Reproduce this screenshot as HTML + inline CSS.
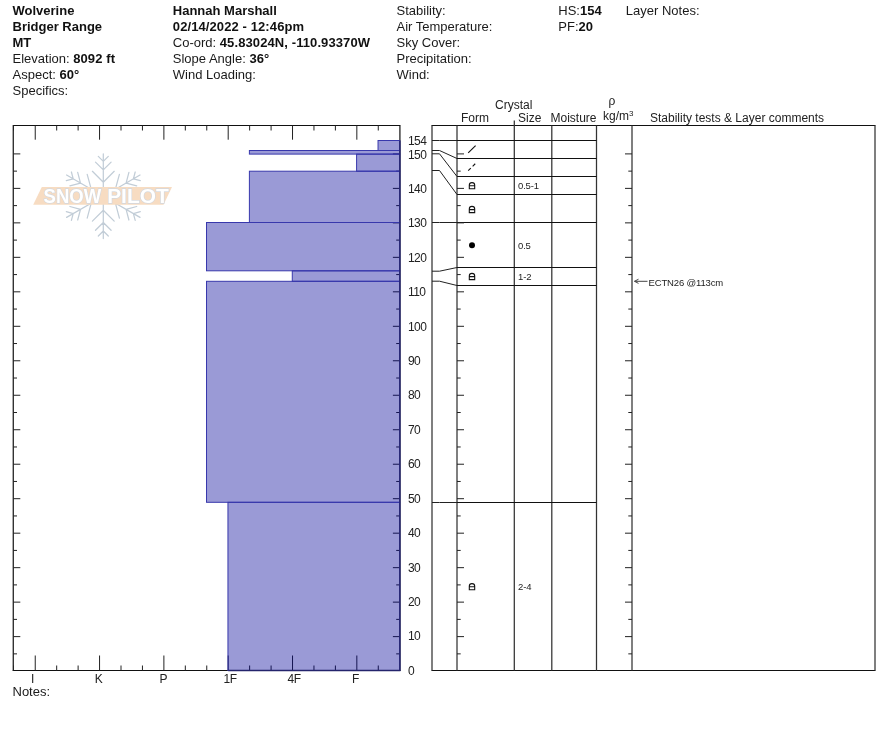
<!DOCTYPE html>
<html lang="en"><head><meta charset="utf-8"><title>Snow Pilot - Wolverine</title>
<style>
html,body{margin:0;padding:0;background:#fff;}
body{width:888px;height:750px;overflow:hidden;position:relative;font-family:"Liberation Sans",Arial,sans-serif;color:#1a1a1a;}
.hd{position:absolute;top:3px;margin-left:-0.5px;font-size:13px;line-height:16px;white-space:nowrap;}
.hd b{font-weight:bold;color:#111;}
.hd b.n{letter-spacing:0.1px;}
svg{position:absolute;left:0;top:0;}
svg text{font-family:"Liberation Sans",Arial,sans-serif;}
</style></head><body>

<div class="hd" style="left:13px"><b>Wolverine</b><br><b>Bridger Range</b><br><b>MT</b><br>Elevation: <b class="n">8092 ft</b><br>Aspect: <b>60°</b><br>Specifics:</div>
<div class="hd" style="left:173.3px"><b>Hannah Marshall</b><br><b class="n">02/14/2022 - 12:46pm</b><br>Co-ord: <b class="n">45.83024N, -110.93370W</b><br>Slope Angle: <b>36°</b><br>Wind Loading:</div>
<div class="hd" style="left:397px">Stability:<br>Air Temperature:<br>Sky Cover:<br>Precipitation:<br>Wind:</div>
<div class="hd" style="left:558.8px">HS:<b>154</b><br>PF:<b>20</b></div>
<div class="hd" style="left:626.3px">Layer Notes:</div>
<div class="hd" style="left:13px;top:683.5px">Notes:</div>
<svg width="888" height="750" viewBox="0 0 888 750">
<g id="logo" opacity="1">
<path d="M103.3,196.2L103.3,153.8 M103.3,182.2L114.2,171.3 M103.3,182.2L92.4,171.3 M103.3,169.9L111.1,162.1 M103.3,169.9L95.5,162.1 M103.3,161.4L108.3,156.4 M103.3,161.4L98.3,156.4 M103.3,196.2L66.6,175.0 M91.2,189.2L87.2,174.3 M91.2,189.2L76.3,193.2 M80.5,183.1L77.7,172.4 M80.5,183.1L69.9,185.9 M73.2,178.8L71.4,172.0 M73.2,178.8L66.3,180.7 M103.3,196.2L66.6,217.4 M91.2,203.2L76.3,199.2 M91.2,203.2L87.2,218.1 M80.5,209.3L69.9,206.5 M80.5,209.3L77.7,220.0 M73.2,213.6L66.3,211.7 M73.2,213.6L71.4,220.4 M103.3,196.2L103.3,238.6 M103.3,210.2L92.4,221.1 M103.3,210.2L114.2,221.1 M103.3,222.5L95.5,230.3 M103.3,222.5L111.1,230.3 M103.3,231.0L98.3,236.0 M103.3,231.0L108.3,236.0 M103.3,196.2L140.0,217.4 M115.4,203.2L119.4,218.1 M115.4,203.2L130.3,199.2 M126.1,209.3L128.9,220.0 M126.1,209.3L136.7,206.5 M133.4,213.6L135.2,220.4 M133.4,213.6L140.3,211.7 M103.3,196.2L140.0,175.0 M115.4,189.2L130.3,193.2 M115.4,189.2L119.4,174.3 M126.1,183.1L136.7,185.9 M126.1,183.1L128.9,172.4 M133.4,178.8L140.3,180.7 M133.4,178.8L135.2,172.0" stroke="#c2cdd7" stroke-width="1.25" fill="none" stroke-linecap="round"/>
<polygon points="41.8,187 172,187 163.5,204.7 33.2,204.7" fill="#f7dcc2"/>
<g font-size="20.5" font-weight="bold" fill="#ffffff" stroke="#d3d8df" stroke-width="1.3" paint-order="stroke">
<text x="43.6" y="203.2" textLength="57.6" lengthAdjust="spacingAndGlyphs">SNOW</text>
<text x="107.2" y="203.2" textLength="61.5" lengthAdjust="spacingAndGlyphs">PILOT</text>
</g>
</g>
<g stroke="#222" stroke-width="1" fill="none">
<path d="M13.3,125.5V671.0 M399.9,125.5V671.0" stroke="#333" stroke-width="1.4"/>
<path d="M12.8,125.5H400.4 M12.8,670.5H400.4" stroke="#111"/>
<path d="M13.5,125.5v5 M13.5,670.5v-5 M35.24,125.5v14.2 M35.24,670.5v-15.0 M56.68000000000001,125.5v5 M56.68000000000001,670.5v-5 M78.12,125.5v5 M78.12,670.5v-5 M99.56,125.5v14.2 M99.56,670.5v-15.0 M121.0,125.5v5 M121.0,670.5v-5 M142.44000000000003,125.5v5 M142.44000000000003,670.5v-5 M163.88000000000002,125.5v14.2 M163.88000000000002,670.5v-15.0 M185.32000000000002,125.5v5 M185.32000000000002,670.5v-5 M206.76000000000002,125.5v5 M206.76000000000002,670.5v-5 M228.20000000000002,125.5v14.2 M228.20000000000002,670.5v-15.0 M249.64000000000001,125.5v5 M249.64000000000001,670.5v-5 M271.08000000000004,125.5v5 M271.08000000000004,670.5v-5 M292.52000000000004,125.5v14.2 M292.52000000000004,670.5v-15.0 M313.96000000000004,125.5v5 M313.96000000000004,670.5v-5 M335.40000000000003,125.5v5 M335.40000000000003,670.5v-5 M356.84000000000003,125.5v14.2 M356.84000000000003,670.5v-15.0 M378.28000000000003,125.5v5 M378.28000000000003,670.5v-5"/>
<path d="M13.3,653.86h3.7 M399.9,653.86h-3.7 M13.3,636.62h7 M399.9,636.62h-7 M13.3,619.38h3.7 M399.9,619.38h-3.7 M13.3,602.14h7 M399.9,602.14h-7 M13.3,584.9h3.7 M399.9,584.9h-3.7 M13.3,567.66h7 M399.9,567.66h-7 M13.3,550.42h3.7 M399.9,550.42h-3.7 M13.3,533.18h7 M399.9,533.18h-7 M13.3,515.94h3.7 M399.9,515.94h-3.7 M13.3,498.7h7 M399.9,498.7h-7 M13.3,481.46h3.7 M399.9,481.46h-3.7 M13.3,464.22h7 M399.9,464.22h-7 M13.3,446.98h3.7 M399.9,446.98h-3.7 M13.3,429.74h7 M399.9,429.74h-7 M13.3,412.5h3.7 M399.9,412.5h-3.7 M13.3,395.26h7 M399.9,395.26h-7 M13.3,378.02h3.7 M399.9,378.02h-3.7 M13.3,360.78h7 M399.9,360.78h-7 M13.3,343.54h3.7 M399.9,343.54h-3.7 M13.3,326.3h7 M399.9,326.3h-7 M13.3,309.06h3.7 M399.9,309.06h-3.7 M13.3,291.82h7 M399.9,291.82h-7 M13.3,274.58h3.7 M399.9,274.58h-3.7 M13.3,257.34h7 M399.9,257.34h-7 M13.3,240.1h3.7 M399.9,240.1h-3.7 M13.3,222.86h7 M399.9,222.86h-7 M13.3,205.62h3.7 M399.9,205.62h-3.7 M13.3,188.38h7 M399.9,188.38h-7 M13.3,171.14h3.7 M399.9,171.14h-3.7 M13.3,153.9h7 M399.9,153.9h-7"/>
</g>
<rect x="378.03" y="140.5" width="21.67" height="10.00" fill="rgba(0,0,151,0.396)" stroke="#3838ac" stroke-width="1"/>
<rect x="249.39" y="150.5" width="150.31" height="3.60" fill="rgba(0,0,151,0.396)" stroke="#3838ac" stroke-width="1"/>
<rect x="356.59" y="154.1" width="43.11" height="17.10" fill="rgba(0,0,151,0.396)" stroke="#3838ac" stroke-width="1"/>
<rect x="249.39" y="171.2" width="150.31" height="51.30" fill="rgba(0,0,151,0.396)" stroke="#3838ac" stroke-width="1"/>
<rect x="206.51" y="222.5" width="193.19" height="48.30" fill="rgba(0,0,151,0.396)" stroke="#3838ac" stroke-width="1"/>
<rect x="292.27" y="270.8" width="107.43" height="10.50" fill="rgba(0,0,151,0.396)" stroke="#3838ac" stroke-width="1"/>
<rect x="206.51" y="281.3" width="193.19" height="221.00" fill="rgba(0,0,151,0.396)" stroke="#3838ac" stroke-width="1"/>
<rect x="227.95" y="502.3" width="171.75" height="168.20" fill="rgba(0,0,151,0.396)" stroke="#3838ac" stroke-width="1"/>
<path d="M399.9,140.5V670.5 M228.20,670.5H400.4" stroke="#24246c" stroke-width="1.3" fill="none"/>
<g font-size="12" fill="#222" text-anchor="middle" letter-spacing="-0.6">
<text x="32.3" y="682.6">I</text>
<text x="98.5" y="682.6">K</text>
<text x="163.2" y="682.6">P</text>
<text x="230" y="682.6">1F</text>
<text x="294" y="682.6">4F</text>
<text x="355.3" y="682.6">F</text>
</g>
<g font-size="12" fill="#222" letter-spacing="-0.6">
<text x="408" y="674.8">0</text>
<text x="408" y="640.4">10</text>
<text x="408" y="606.0">20</text>
<text x="408" y="571.5">30</text>
<text x="408" y="537.1">40</text>
<text x="408" y="502.7">50</text>
<text x="408" y="468.3">60</text>
<text x="408" y="433.9">70</text>
<text x="408" y="399.4">80</text>
<text x="408" y="365.0">90</text>
<text x="408" y="330.6">100</text>
<text x="408" y="296.2">110</text>
<text x="408" y="261.8">120</text>
<text x="408" y="227.3">130</text>
<text x="408" y="192.9">140</text>
<text x="408" y="158.5">150</text>
<text x="408" y="144.7">154</text>
</g>
<g stroke="#222" stroke-width="1" fill="none">
<path d="M431.5,125.5H875.5 M431.5,670.5H875.5" stroke="#111"/>
<path d="M432,125.5V670.5 M457,125.5V670.5 M514.3,120.5V670.5 M551.8,125.5V670.5 M596.5,125.5V670.5 M632,125.5V670.5 M875,125.5V670.5" stroke="#333" stroke-width="1.25"/>
<path d="M457,140.5H596.5 M457,158.5H596.5 M457,176.5H596.5 M457,194.5H596.5 M457,222.5H596.5 M457,267.5H596.5 M457,285.5H596.5 M457,502.5H596.5" stroke="#111"/>
<path d="M432,140.5H439.5L457,140.5 M432,150.5H439.5L457,158.5 M432,153.8H439.5L457,176.5 M432,170.5H439.5L457,194.5 M432,222.5H439.5L457,222.5 M432,271.2H439.5L457,267.5 M432,281.2H439.5L457,285.5 M432,502.5H439.5L457,502.5" stroke="#222"/>
<path d="M457,653.86h3.7 M632,653.86h-3.7 M457,636.62h7 M632,636.62h-7 M457,619.38h3.7 M632,619.38h-3.7 M457,602.14h7 M632,602.14h-7 M457,584.9h3.7 M632,584.9h-3.7 M457,567.66h7 M632,567.66h-7 M457,550.42h3.7 M632,550.42h-3.7 M457,533.18h7 M632,533.18h-7 M457,515.94h3.7 M632,515.94h-3.7 M457,498.7h7 M632,498.7h-7 M457,481.46h3.7 M632,481.46h-3.7 M457,464.22h7 M632,464.22h-7 M457,446.98h3.7 M632,446.98h-3.7 M457,429.74h7 M632,429.74h-7 M457,412.5h3.7 M632,412.5h-3.7 M457,395.26h7 M632,395.26h-7 M457,378.02h3.7 M632,378.02h-3.7 M457,360.78h7 M632,360.78h-7 M457,343.54h3.7 M632,343.54h-3.7 M457,326.3h7 M632,326.3h-7 M457,309.06h3.7 M632,309.06h-3.7 M457,291.82h7 M632,291.82h-7 M457,274.58h3.7 M632,274.58h-3.7 M457,257.34h7 M632,257.34h-7 M457,240.1h3.7 M632,240.1h-3.7 M457,222.86h7 M632,222.86h-7 M457,205.62h3.7 M632,205.62h-3.7 M457,188.38h7 M632,188.38h-7 M457,171.14h3.7 M632,171.14h-3.7 M457,153.9h7 M632,153.9h-7"/>
</g>
<g stroke="#111" stroke-width="1.1" fill="none">
<path d="M468.2,152.8L475.6,145.6"/>
<path d="M468.2,170.6L475.6,163.4" stroke-dasharray="3.6,2.6"/>
<path d="M469.3,188.8v-3.5a2.7,2.7 0 0 1 5.4,0v3.5z M469.3,185.8h5.4"/>
<path d="M469.3,212.60000000000002v-3.5a2.7,2.7 0 0 1 5.4,0v3.5z M469.3,209.60000000000002h5.4"/>
<path d="M469.3,279.6v-3.5a2.7,2.7 0 0 1 5.4,0v3.5z M469.3,276.6h5.4"/>
<path d="M469.3,589.8v-3.5a2.7,2.7 0 0 1 5.4,0v3.5z M469.3,586.8h5.4"/>
</g>
<circle cx="472" cy="245.2" r="3" fill="#000"/>
<g font-size="9.5" fill="#222" letter-spacing="-0.15">
<text x="518" y="189.3">0.5-1</text>
<text x="518" y="248.6">0.5</text>
<text x="518" y="279.8">1-2</text>
<text x="518" y="590.2">2-4</text>
<text x="648.5" y="285.8">ECTN26 @113cm</text>
</g>
<path d="M634.5,281.3H647.5 M638.5,279.2L634.5,281.3L638.5,283.4" stroke="#444" stroke-width="1" fill="none"/>
<g font-size="12" fill="#222">
<text x="495" y="108.5">Crystal</text>
<text x="461" y="122">Form</text>
<text x="518" y="122">Size</text>
<text x="550.5" y="122">Moisture</text>
<text x="608.5" y="105">ρ</text>
<text x="603" y="120.3">kg/m<tspan font-size="8" dy="-4">3</tspan></text>
<text x="650" y="122">Stability tests &amp; Layer comments</text>
</g>
</svg></body></html>
